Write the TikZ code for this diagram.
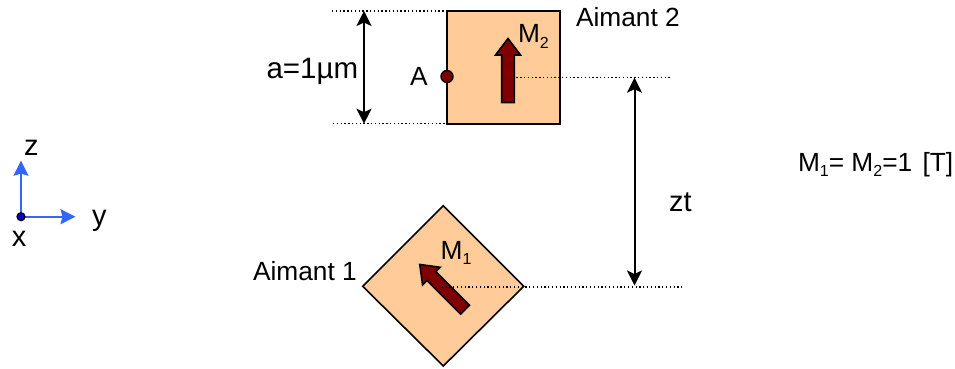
\documentclass[tikz,border=0pt]{standalone}
\usepackage{fontspec}
\setmainfont{Liberation Sans}
\usetikzlibrary{arrows.meta}
\definecolor{magfill}{HTML}{FFCC99}
\definecolor{magred}{HTML}{800000}
\definecolor{axisblue}{HTML}{3366FF}
\newcommand{\lowidx}[1]{\raisebox{-0.2em}{\fontsize{16}{16}\selectfont #1}}
\tikzset{
  lbl/.style={anchor=base west,inner sep=0pt,outer sep=0pt,font=\fontsize{26.3}{26.3}\selectfont},
  lblbig/.style={lbl,font=\fontsize{29}{29}\selectfont},
  magnet/.style={draw=black,line width=1.6pt,fill=magfill,line join=miter},
  blockarrow/.style={draw=black,line width=1.6pt,fill=magred,line join=miter},
  guide/.style={line width=1.3pt,dash pattern=on 1.3pt off 2.5pt},
  dim/.style={line width=2pt,{Stealth[length=15pt,width=15pt,inset=3.5pt]}-{Stealth[length=15pt,width=15pt,inset=3.5pt]}},
  axis/.style={axisblue,line width=1.7pt,-{Stealth[length=15pt,width=15pt,inset=2pt]}}
}
\begin{document}
\begin{tikzpicture}[x=1pt,y=-1pt]
\useasboundingbox (0,0) rectangle (955,369);
% magnets
\draw[magnet] (446.7,11) rectangle (560,123.7);
\draw[magnet] (443.3,205.7) -- (523.7,286.3) -- (443.3,366) -- (362.7,286.3) -- cycle;
% block arrows
\draw[blockarrow] (501.7,102.5) -- (514.3,102.5) -- (514.3,55) -- (520.5,55) -- (508,38.5) -- (495.5,55) -- (501.7,55) -- cycle;
\begin{scope}[shift={(465,309.7)},rotate=45]
\draw[blockarrow] (-6.3,0) -- (6.3,0) -- (6.3,-47.5) -- (12.5,-47.5) -- (0,-64) -- (-12.5,-47.5) -- (-6.3,-47.5) -- cycle;
\end{scope}
% guide line end points
\coordinate (topL) at (332,11);
\coordinate (topR) at (446.7,11);
\coordinate (botL) at (333,123.7);
\coordinate (botR) at (446.7,123.7);
\coordinate (m2c) at (505,77.7);
\coordinate (m2e) at (670,77.7);
\coordinate (m1c) at (441.7,287);
\coordinate (m1e) at (682.7,287);
\coordinate (aT) at (364,11);
\coordinate (aB) at (364,123.7);
\coordinate (zT) at (634.5,77.7);
\coordinate (zB) at (634.5,285.5);
\draw[guide] (topL) -- (topR);
\draw[guide] (botL) -- (botR);
\draw[guide] (m2c) -- (m2e);
\draw[guide] (m1c) -- (m1e);
\draw[dim] (aT) -- (aB);
\draw[dim] (zT) -- (zB);
% point A
\node[circle,draw=black,line width=1.4pt,fill=magred,minimum size=12pt,inner sep=0pt] (ptA) at (447,76.5) {};
% axes
\coordinate (zTip) at (21,160.7);
\coordinate (yTip) at (75.5,216.7);
\coordinate (orig) at (21,216.7);
\draw[axis] (orig) -- (zTip);
\draw[axis] (orig) -- (yTip);
\node[circle,draw=black,line width=1.2pt,fill=blue!80!black,minimum size=8pt,inner sep=0pt] (origin) at (orig) {};
% labels
\node[lbl] (aim2) at (576,27) {Aimant 2};
\node[lbl] (aim1) at (253,280) {Aimant 1};
\node[lbl,font=\fontsize{29.5}{29.5}\selectfont] (adim) at (266.5,78) {a=1µm};
\node[lbl] (lA) at (410,85) {A};
\node[lbl] (lM2) at (518,43) {M\lowidx{2}};
\node[lbl] (lM1) at (440.7,259) {M\lowidx{1}};
\node[lblbig] (lzt) at (669,211) {zt};
\node[lblbig] (lz) at (24,155) {z};
\node[lblbig] (ly) at (92,225) {y};
\node[lblbig] (lx) at (12,246) {x};
\node[lbl] (eq) at (798,171) {M\lowidx{1}= M\lowidx{2}=1\kern3pt{} [T]};
\end{tikzpicture}
\end{document}
